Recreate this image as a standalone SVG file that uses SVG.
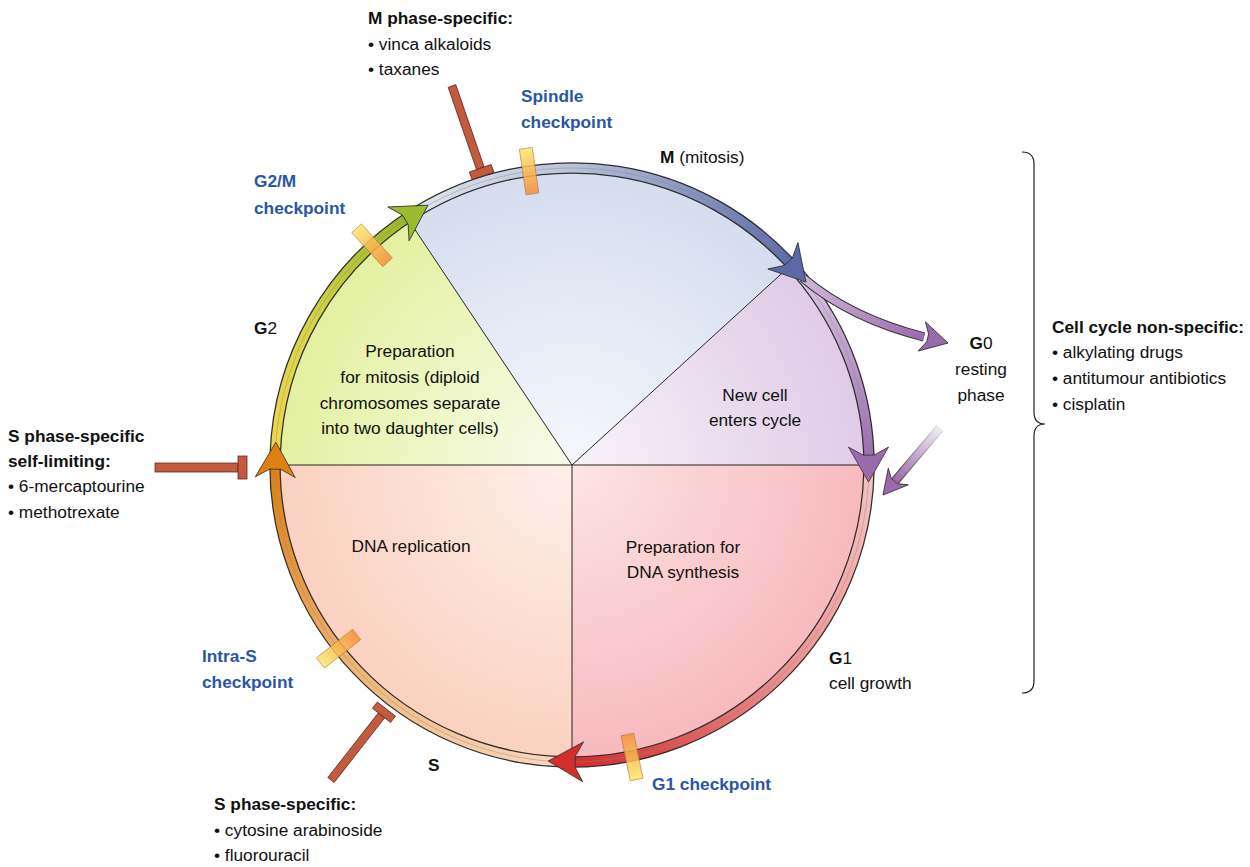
<svg xmlns="http://www.w3.org/2000/svg" width="1250" height="867" viewBox="0 0 1250 867">
<style>
.t{font-family:"Liberation Sans",Arial,sans-serif;font-size:17.3px;fill:#111}
.b{font-weight:bold}
.bl{font-weight:bold;fill:#2a56a3}
.c{text-anchor:middle}
.sec{stroke:none}
.sl{stroke:#222;stroke-width:1;fill:none}
.ol{fill:none;stroke:#2e2e2e;stroke-width:11.5}
.mid{fill:none;stroke:#888;stroke-opacity:0.55;stroke-width:0.8}
.ah{stroke:#2e2e2e;stroke-width:0.8;stroke-linejoin:round}
.cp{stroke:#b27436;stroke-width:0.7;opacity:0.85}
.inh{fill:#c25a40;stroke:#6a2a1a;stroke-width:0.8}
</style>
<defs>
<radialGradient id="gS" gradientUnits="userSpaceOnUse" cx="572" cy="465" r="292"><stop offset="0" stop-color="#fef0ea"/><stop offset="1" stop-color="#fbd1c0"/></radialGradient>
<radialGradient id="gG1" gradientUnits="userSpaceOnUse" cx="572" cy="465" r="292"><stop offset="0" stop-color="#fde4e4"/><stop offset="1" stop-color="#f7babe"/></radialGradient>
<radialGradient id="gG2" gradientUnits="userSpaceOnUse" cx="572" cy="465" r="292"><stop offset="0" stop-color="#f9fcec"/><stop offset="1" stop-color="#e4f0a0"/></radialGradient>
<radialGradient id="gM" gradientUnits="userSpaceOnUse" cx="572" cy="465" r="292"><stop offset="0" stop-color="#f6f8fc"/><stop offset="1" stop-color="#d5ddee"/></radialGradient>
<radialGradient id="gN" gradientUnits="userSpaceOnUse" cx="572" cy="465" r="292"><stop offset="0" stop-color="#f8f3f9"/><stop offset="1" stop-color="#dfcbe6"/></radialGradient>
<linearGradient id="bG" gradientUnits="userSpaceOnUse" x1="275" y1="455" x2="412" y2="214"><stop offset="0" stop-color="#f0d64c"/><stop offset="0.45" stop-color="#d8d646"/><stop offset="1" stop-color="#98b52a"/></linearGradient>
<linearGradient id="bB" gradientUnits="userSpaceOnUse" x1="419" y1="210" x2="794" y2="268"><stop offset="0" stop-color="#dde3ec"/><stop offset="0.35" stop-color="#bcc5da"/><stop offset="1" stop-color="#5b6aa8"/></linearGradient>
<linearGradient id="bP" gradientUnits="userSpaceOnUse" x1="800" y1="274" x2="869" y2="465"><stop offset="0" stop-color="#dac8e2"/><stop offset="1" stop-color="#9a6aac"/></linearGradient>
<linearGradient id="bR" gradientUnits="userSpaceOnUse" x1="869" y1="470" x2="569" y2="762"><stop offset="0" stop-color="#f6c2c2"/><stop offset="0.5" stop-color="#ec8f8c"/><stop offset="1" stop-color="#d52a2a"/></linearGradient>
<linearGradient id="bO" gradientUnits="userSpaceOnUse" x1="562" y1="762" x2="275" y2="462"><stop offset="0" stop-color="#f9d8c0"/><stop offset="0.5" stop-color="#f0b678"/><stop offset="1" stop-color="#df7f10"/></linearGradient>
<linearGradient id="bG0" gradientUnits="userSpaceOnUse" x1="806" y1="279" x2="924" y2="337"><stop offset="0" stop-color="#cdb6d8"/><stop offset="1" stop-color="#9a6aac"/></linearGradient>
<linearGradient id="bRet" gradientUnits="userSpaceOnUse" x1="940" y1="428" x2="895" y2="481"><stop offset="0" stop-color="#f2ecf4"/><stop offset="1" stop-color="#9a6aac"/></linearGradient>
<linearGradient id="oRet" gradientUnits="userSpaceOnUse" x1="940" y1="428" x2="895" y2="481"><stop offset="0" stop-color="#dddddd"/><stop offset="1" stop-color="#3a3a3a"/></linearGradient>
<linearGradient id="cpG" x1="0" y1="0" x2="1" y2="0"><stop offset="0" stop-color="#f58f38"/><stop offset="1" stop-color="#fde86c"/></linearGradient>
<polygon id="head" points="0,0 -35,-20 -27,-5.5 -27,5.5 -35,20"/>
<rect id="cpr" x="-23" y="-6.5" width="46" height="13" fill="url(#cpG)"/>
</defs>

<g id="sectors">
<path id="sector-S" class="sec" fill="url(#gS)" d="M572,465 L572,757 A292,292 0 0 1 280,465 Z"/>
<path id="sector-G2" class="sec" fill="url(#gG2)" d="M572,465 L280,465 A292,292 0 0 1 410,222.1 Z"/>
<path id="sector-M" class="sec" fill="url(#gM)" d="M572,465 L410,222.1 A292,292 0 0 1 787.6,268.1 Z"/>
<path id="sector-new" class="sec" fill="url(#gN)" d="M572,465 L787.6,268.1 A292,292 0 0 1 864,465 Z"/>
<path id="sector-G1" class="sec" fill="url(#gG1)" d="M572,465 L864,465 A292,292 0 0 1 572,757 Z"/>
<path class="sl" d="M572,465 L410,222.1 M572,465 L787.6,268.1 M280,465 L864,465 M572,465 L572,757"/>
</g>

<g id="connectors">
<path class="ol" d="M275.2,454.6 A297,297 0 0 1 412.4,214.5"/>
<path fill="none" stroke="url(#bG)" stroke-width="9" d="M275.2,454.6 A297,297 0 0 1 412.4,214.5"/>
<path class="ol" d="M417.6,211.2 A297,297 0 0 1 794.5,268.2"/>
<path fill="none" stroke="url(#bB)" stroke-width="9" d="M417.6,211.2 A297,297 0 0 1 794.5,268.2"/>
<path class="ol" d="M798.9,273.5 A297,297 0 0 1 869,465"/>
<path fill="none" stroke="url(#bP)" stroke-width="9" d="M798.9,273.5 A297,297 0 0 1 869,465"/>
<path class="ol" d="M868.95,470.2 A297,297 0 0 1 569.4,762"/>
<path fill="none" stroke="url(#bR)" stroke-width="9" d="M868.95,470.2 A297,297 0 0 1 569.4,762"/>
<path class="ol" d="M561.6,761.8 A297,297 0 0 1 275,462.4"/>
<path fill="none" stroke="url(#bO)" stroke-width="9" d="M561.6,761.8 A297,297 0 0 1 275,462.4"/>
<circle class="mid" cx="572" cy="465" r="297"/>
<path fill="none" stroke="#2e2e2e" stroke-width="9.5" d="M803,278 Q850,318 924,337"/>
<path fill="none" stroke="url(#bG0)" stroke-width="7.5" d="M803,278 Q850,318 924,337"/>
<path fill="none" stroke="url(#oRet)" stroke-width="9" d="M940,428 L895,481"/>
<path fill="none" stroke="url(#bRet)" stroke-width="7" d="M940,428 L895,481"/>
<use href="#head" class="ah" fill="#9bbb2e" transform="translate(428,205.2) rotate(327.7)"/>
<use href="#head" class="ah" fill="#5b6aa6" transform="translate(806,282.1) rotate(48.7)"/>
<use href="#head" class="ah" fill="#9a6aad" transform="translate(868.5,482.1) rotate(90)"/>
<use href="#head" class="ah" fill="#d42d2d" transform="translate(548.2,761) rotate(181.3)"/>
<use href="#head" class="ah" fill="#de8012" transform="translate(275.9,442.2) rotate(271.1)"/>
<polygon class="ah" fill="#9a6aad" points="0,0 -27,-15 -21,-4 -21,4 -27,15" transform="translate(948,343) rotate(14)"/>
<polygon class="ah" fill="#9a6aad" points="0,0 -24,-13 -18,-4 -18,4 -24,13" transform="translate(883,495) rotate(129.6)"/>
</g>

<g id="checkpoints">
<use id="cp-spindle" href="#cpr" class="cp" transform="translate(529.1,171.1) rotate(261.7)"/>
<use id="cp-g2m" href="#cpr" class="cp" transform="translate(372.1,245.3) rotate(227.7)"/>
<use id="cp-intraS" href="#cpr" class="cp" transform="translate(338.6,648.7) rotate(141.8)"/>
<use id="cp-g1" href="#cpr" class="cp" transform="translate(632,757) rotate(78.4)"/>
</g>

<g id="inhibitor-M" transform="translate(452,86) rotate(71)">
<rect class="inh" x="0" y="-4" width="87" height="8"/>
<rect class="inh" x="87" y="-11.5" width="8" height="23"/>
</g>
<g id="inhibitor-S-self" transform="translate(155,467.5)">
<rect class="inh" x="0" y="-4.5" width="83" height="9"/>
<rect class="inh" x="83" y="-11.5" width="9" height="23"/>
</g>
<g id="inhibitor-S" transform="translate(331,780) rotate(-52)">
<rect class="inh" x="0" y="-4" width="82" height="8"/>
<rect class="inh" x="82" y="-11.5" width="8" height="23"/>
</g>

<g id="brace">
<path fill="none" stroke="#222" stroke-width="1.2" d="M1022,152 Q1034,152 1034,164 L1034,412 Q1034,424 1045,424 Q1034,424 1034,436 L1034,681 Q1034,693 1022,693"/>
</g>

<g id="labels">
<g id="label-M-specific"><text class="t b" x="368" y="24">M phase-specific:</text><text class="t" x="368" y="50">• vinca alkaloids</text><text class="t" x="368" y="75">• taxanes</text></g>
<g id="label-spindle"><text class="t bl" x="521" y="102">Spindle</text><text class="t bl" x="521" y="128">checkpoint</text></g>
<g id="label-M"><text class="t" x="660" y="163"><tspan font-weight="bold">M</tspan> (mitosis)</text></g>
<g id="label-g2m"><text class="t bl" x="254" y="187">G2/M</text><text class="t bl" x="254" y="214">checkpoint</text></g>
<g id="label-G2"><text class="t" x="254" y="334"><tspan font-weight="bold">G</tspan>2</text></g>
<g id="label-prep-mitosis"><text class="t c" x="410" y="357">Preparation</text><text class="t c" x="410" y="383">for mitosis (diploid</text><text class="t c" x="410" y="409">chromosomes separate</text><text class="t c" x="410" y="434">into two daughter cells)</text></g>
<g id="label-newcell"><text class="t c" x="755" y="401">New cell</text><text class="t c" x="755" y="426">enters cycle</text></g>
<g id="label-G0"><text class="t c" x="981" y="349"><tspan font-weight="bold">G</tspan>0</text><text class="t c" x="981" y="375">resting</text><text class="t c" x="981" y="401">phase</text></g>
<g id="label-nonspecific"><text class="t b" x="1052" y="333">Cell cycle non-specific:</text><text class="t" x="1052" y="358">• alkylating drugs</text><text class="t" x="1052" y="384">• antitumour antibiotics</text><text class="t" x="1052" y="410">• cisplatin</text></g>
<g id="label-S-self"><text class="t b" x="8" y="442">S phase-specific</text><text class="t b" x="8" y="467">self-limiting:</text><text class="t" x="8" y="492">• 6-mercaptourine</text><text class="t" x="8" y="518">• methotrexate</text></g>
<g id="label-dnarep"><text class="t c" x="411" y="552">DNA replication</text></g>
<g id="label-prep-dna"><text class="t c" x="683" y="553">Preparation for</text><text class="t c" x="683" y="578">DNA synthesis</text></g>
<g id="label-intraS"><text class="t bl" x="202" y="662">Intra-S</text><text class="t bl" x="202" y="688">checkpoint</text></g>
<g id="label-G1"><text class="t" x="829" y="664"><tspan font-weight="bold">G</tspan>1</text><text class="t" x="829" y="689">cell growth</text></g>
<g id="label-S"><text class="t b" x="428" y="771">S</text></g>
<g id="label-g1cp"><text class="t bl" x="652" y="790">G1 checkpoint</text></g>
<g id="label-S-specific"><text class="t b" x="214" y="810">S phase-specific:</text><text class="t" x="214" y="836">• cytosine arabinoside</text><text class="t" x="214" y="861">• fluorouracil</text></g>
</g>
</svg>
